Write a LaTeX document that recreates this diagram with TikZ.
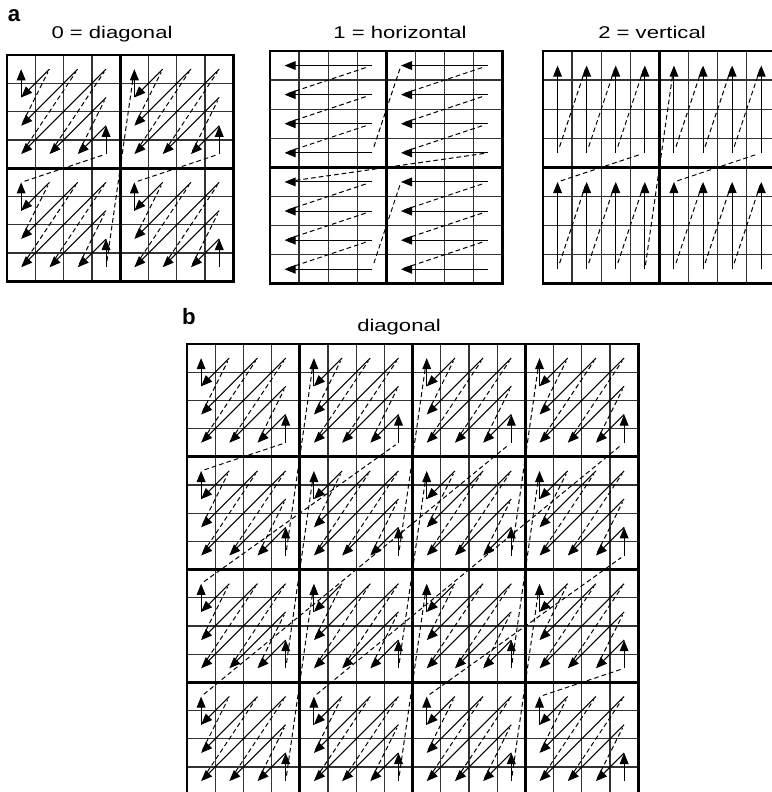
\documentclass[tikz,border=0pt]{standalone}
\usepackage{fontspec}
\setmainfont{Liberation Sans}
\usetikzlibrary{arrows.meta}
\tikzset{
  cellgrid/.style={black!80, line width=1.1pt},
  blockgrid/.style={black, line width=2.4pt, line cap=rect},
  scan/.style={line width=0.9pt, -{Triangle[length=9.5pt,width=7.5pt]}},
  jump/.style={line width=0.85pt, dash pattern=on 4pt off 2.6pt,
    shorten <=3pt, shorten >=3pt},
  caption/.style={font=\fontsize{14.5}{16}\selectfont, anchor=base},
  tag/.style={font=\fontsize{19}{21}\selectfont\bfseries}
}
% captions are set wide, as in the printed figure
\newcommand{\wide}[1]{\scalebox{1.3}[1]{#1}}

\begin{document}
\begin{tikzpicture}[x=0.03cm, y=-0.03cm]
\useasboundingbox (0,0) rectangle (771,792);

% reverse scan inside one 4x4 sub-block: from cell / to cell (col/row)
\def\diagRun{3/3/3/2, 3/2/2/3, 3/1/1/3, 3/0/0/3, 2/0/0/2, 1/0/0/1, 0/1/0/0}
\def\diagJump{2/3/3/1, 1/3/3/0, 0/3/2/0, 0/2/1/0}
\def\horRun{3/3/0/3, 3/2/0/2, 3/1/0/1, 3/0/0/0}
\def\horJump{0/3/3/2, 0/2/3/1, 0/1/3/0}
\def\verRun{3/3/3/0, 2/3/2/0, 1/3/1/0, 0/3/0/0}
\def\verJump{3/0/2/3, 2/0/1/3, 1/0/0/3}

% order of the sub-blocks: from block / to block
\def\diagBlocks{1/1/1/0, 1/0/0/1, 0/1/0/0}
\def\horBlocks{1/1/0/1, 0/1/1/0, 1/0/0/0}
\def\bigBlocks{3/3/3/2, 3/2/2/3, 2/3/3/1, 3/1/2/2, 2/2/1/3, 1/3/3/0,
  3/0/2/1, 2/1/1/2, 1/2/0/3, 0/3/2/0, 2/0/1/1, 1/1/0/2, 0/2/1/0,
  1/0/0/1, 0/1/0/0}

% #1 corner, #2 cell size (cm), #3 blocks per side, #4 runs, #5 jumps, #6 block order
\def\scanpanel#1#2#3#4#5#6{%
  \begin{scope}[shift={#1}, x=#2cm, y=-#2cm]
    \pgfmathtruncatemacro{\nc}{4*#3}
    \pgfmathtruncatemacro{\nb}{#3-1}
    \foreach \k in {0,...,\nc} {
      \draw[cellgrid] (\k,0) -- (\k,\nc);
      \draw[cellgrid] (0,\k) -- (\nc,\k);
    }
    \foreach \k in {0,4,...,\nc} {
      \draw[blockgrid] (\k,0) -- (\k,\nc);
      \draw[blockgrid] (0,\k) -- (\nc,\k);
    }
    \foreach \bx in {0,...,\nb} \foreach \by in {0,...,\nb} {
      \foreach \ia/\ja/\ib/\jb in #4
        \draw[scan] (4*\bx+\ia+.5, 4*\by+\ja+.5) -- (4*\bx+\ib+.5, 4*\by+\jb+.5);
      \foreach \ia/\ja/\ib/\jb in #5
        \draw[jump] (4*\bx+\ia+.5, 4*\by+\ja+.5) -- (4*\bx+\ib+.5, 4*\by+\jb+.5);
    }
    \foreach \ax/\ay/\cx/\cy in #6
      \draw[jump] (4*\ax+.5, 4*\ay+.5) -- (4*\cx+3.5, 4*\cy+3.5);
  \end{scope}}

%--- a ---
\node[tag] (tagA) at (14,16) {a};
\node[caption] (capDiag) at (112,39) {\wide{0 = diagonal}};
\node[caption] (capHor)  at (400,39) {\wide{1 = horizontal}};
\node[caption] (capVer)  at (652,39) {\wide{2 = vertical}};

\scanpanel{(7,55)}{0.849}{2}{\diagRun}{\diagJump}{\diagBlocks}
\scanpanel{(270,51)}{0.873}{2}{\horRun}{\horJump}{\horBlocks}
\scanpanel{(543,51)}{0.873}{2}{\verRun}{\verJump}{\diagBlocks}

%--- b ---
\node[tag] (tagB) at (189,317) {b};
\node[caption] (capBig) at (399,331) {\wide{diagonal}};

\scanpanel{(187,344)}{0.846}{4}{\diagRun}{\diagJump}{\bigBlocks}

\end{tikzpicture}
\end{document}
